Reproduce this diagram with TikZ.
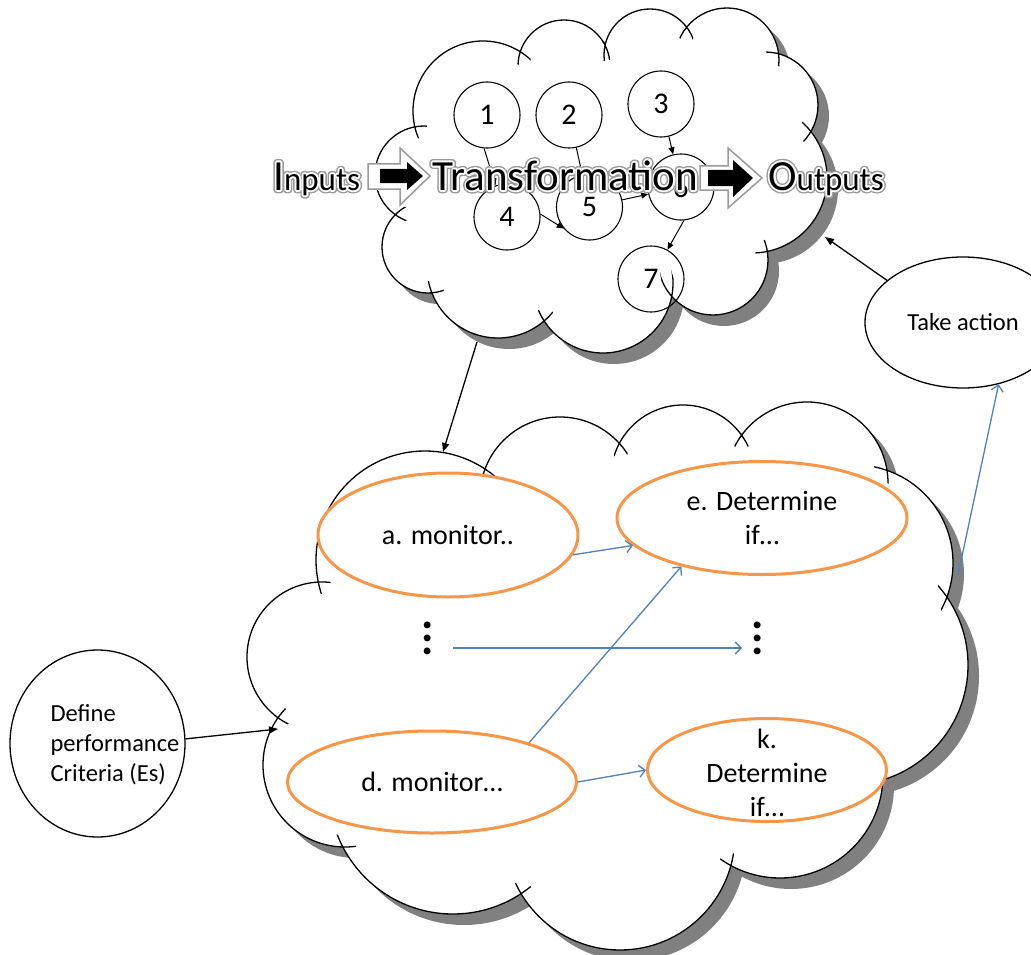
\documentclass[tikz,border=0pt]{standalone}
\usepackage{fontspec}
\setmainfont{Carlito}
\usetikzlibrary{shapes.geometric,arrows.meta}
\definecolor{orng}{HTML}{F79646}
\definecolor{blu}{HTML}{4F81BD}
\definecolor{shad}{HTML}{808080}
\definecolor{glowgray}{HTML}{9A9A9A}

\newcommand\topcircles[1]{(424,-175) circle[radius=49-#1] (483,-111) circle[radius=70-#1] (564,-66) circle[radius=46-#1] (650,-55) circle[radius=46-#1] (727,-60) circle[radius=52-#1] (765,-105) circle[radius=53-#1] (752,-178) circle[radius=75-#1] (713,-260) circle[radius=55-#1] (603,-283) circle[radius=70-#1] (498,-267) circle[radius=71-#1] (428,-247) circle[radius=46-#1]}
\newcommand\toppoly{(424,-175) -- (483,-111) -- (564,-66) -- (650,-55) -- (727,-60) -- (765,-105) -- (752,-178) -- (713,-260) -- (603,-283) -- (498,-267) -- (428,-247) -- cycle}
\newcommand\botcircles[1]{(425,-560) circle[radius=109-#1] (560,-497) circle[radius=80-#1] (683,-477) circle[radius=72-#1] (807,-483) circle[radius=81-#1] (855,-563) circle[radius=98-#1] (848,-665) circle[radius=120-#1] (780,-775) circle[radius=103-#1] (620,-835) circle[radius=115-#1] (453,-790) circle[radius=124-#1] (345,-765) circle[radius=82-#1] (322,-657) circle[radius=75-#1]}
\newcommand\botpoly{(425,-560) -- (560,-497) -- (683,-477) -- (807,-483) -- (855,-563) -- (848,-665) -- (780,-775) -- (620,-835) -- (453,-790) -- (345,-765) -- (322,-657) -- cycle}

\newcommand\cloudshape[2]{%
  \begin{scope}[shift={(11,-11)}]\fill[shad] #1{0}; \fill[shad] #2;\end{scope}
  \fill[white] #1{0}; \fill[white] #2;
  \draw[line width=1.3pt] #1{0};
  \fill[white] #1{12}; \fill[white] #2;
}

% outlined (stroked) text via PDF text rendering mode
\newcommand\strokedtext[3]{{\color{#1}\special{pdf:literal direct 1 Tr #2 w 1 j 1 J}#3\special{pdf:literal direct 0 Tr}}}
\newcommand\wordart[1]{\rlap{\strokedtext{glowgray}{6.6}{#1}}\rlap{\strokedtext{white}{3.8}{#1}}{\color{black}#1}}

\tikzset{
  num/.style={circle, draw, line width=1.1pt, minimum size=66pt, inner sep=0pt, font=\fontsize{30}{30}\selectfont},
  sarrow/.style={line width=1pt, -{Triangle[length=7pt,width=6pt]}},
  karrow/.style={line width=1.3pt, -{Triangle[length=9pt,width=7pt]}},
  barrow/.style={draw=blu, line width=1.3pt, -{Straight Barb[length=6pt,width=12pt]}},
  oval/.style={ellipse, draw=orng, line width=3pt, fill=white, inner sep=0pt},
  bigoval/.style={ellipse, draw, line width=1.3pt, fill=white, inner sep=0pt},
  txt/.style={font=\fontsize{28}{34}\selectfont, align=center, inner sep=0pt},
  smalltxt/.style={font=\fontsize{24.5}{30}\selectfont, inner sep=0pt},
  blkout/.style={fill=white, draw=glowgray, line width=1.5pt, line join=miter},
  blkin/.style={fill=black, draw=none},
  dotsn/.style={font=\fontsize{46}{13}\selectfont\bfseries, align=center, inner sep=0pt},
  wa/.style={anchor=base west, inner sep=0pt}
}

\begin{document}
\begin{tikzpicture}[x=1pt,y=1pt]
\useasboundingbox (0,0) rectangle (1031,-955);

% ---------- top cloud ----------
\cloudshape{\topcircles}{\toppoly}

\node[num] (c1) at (487,-115) {1};
\node[num] (c2) at (569,-115) {2};
\node[num] (c3) at (661,-104) {3};
\node[num] (c4) at (507,-217) {4};
\node[num] (c5) at (589.5,-207) {5};
\node[num] (c6) at (681,-187) {6};
\node[num] (c7) at (651,-279) {7};

\draw[sarrow] (c1.265) -- (c4.110);
\draw[sarrow] (c2) -- (c5);
\draw[sarrow] (c3) -- (c6);
\draw[sarrow] (c4.5) -- (c5.220);
\draw[sarrow] (c5) -- (c6);
\draw[sarrow] (c6.275) -- (c7);

% WordArt block arrows
\draw[blkout] (368,-164) -- (400,-164) -- (400,-148) -- (430,-176) -- (400,-205) -- (400,-189) -- (368,-189) -- cycle;
\fill[blkin] (380,-169) -- (407,-169) -- (407,-162) -- (423,-176) -- (407,-190) -- (407,-183) -- (380,-183) -- cycle;
\draw[blkout] (700,-166) -- (728,-166) -- (728,-148) -- (762,-178) -- (728,-208) -- (728,-190) -- (700,-190) -- cycle;
\fill[blkin] (708,-170) -- (733,-170) -- (733,-160) -- (753,-178) -- (733,-197) -- (733,-186) -- (708,-186) -- cycle;

% WordArt text
\node[wa] (inp) at (273,-190) {\wordart{{\fontsize{43}{43}\selectfont I}{\fontsize{33}{33}\selectfont nputs}}};
\node[wa] (trf) at (432,-190) {\wordart{\fontsize{43}{43}\selectfont Transformation}};
\node[wa] (outp) at (768,-190) {\wordart{{\fontsize{43}{43}\selectfont O}{\fontsize{33}{33}\selectfont utputs}}};

% ---------- bottom cloud ----------
\cloudshape{\botcircles}{\botpoly}

\node[oval, minimum width=260pt, minimum height=124pt] (a) at (448,-535) {};
\node[txt] (at) at (a) {a. monitor..};
\node[oval, minimum width=290pt, minimum height=113pt] (e) at (762,-518) {};
\node[txt] (et) at (e) {e. Determine\\if…};
\node[oval, minimum width=289pt, minimum height=102pt] (d) at (432,-782) {};
\node[txt] (dt) at (d) {d. monitor…};
\node[oval, minimum width=239pt, minimum height=103pt] (k) at (767,-770) {};
\node[txt] (kt) at ([yshift=-3pt]k.center) {k.\\Determine\\if…};

\node[dotsn] (v1) at (428,-638) {.\\.\\.};
\node[dotsn] (v2) at (758,-638) {.\\.\\.};

\draw[barrow] (a.351) -- (e.192);
\draw[barrow] (d.22.3) -- (e.211.2);
\draw[barrow] ([shift={(25,-10)}]v1.center) -- ([shift={(-16,-10)}]v2.center);
\draw[barrow] (d.east) -- (k.west);

% ---------- side ellipses ----------
\node[bigoval, minimum width=175pt, minimum height=187pt] (def) at (97.5,-743.5) {};
\node[smalltxt, align=left] (deft) at (115,-745) {Define\\performance\\Criteria (Es)};
\node[bigoval, minimum width=196pt, minimum height=131pt, smalltxt] (ta) at (963,-322.5) {Take action};

% ---------- connectors ----------
\coordinate (tcS) at (477,-342);
\coordinate (bcN) at (443,-452);
\coordinate (bcW) at (278,-729);
\coordinate (tcE) at (825,-237);
\coordinate (eTA) at (958,-575);

\draw[karrow] (tcS) -- (bcN);
\draw[karrow] (def.3.6) -- (bcW);
\draw[karrow] (ta.151.4) -- (tcE);
\draw[barrow] (eTA) -- (ta.300.5);
\end{tikzpicture}
\end{document}
